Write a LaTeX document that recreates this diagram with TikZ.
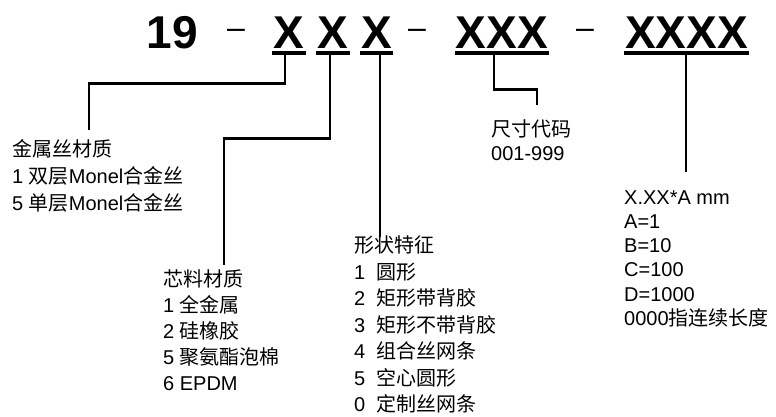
\documentclass[tikz,border=0pt]{standalone}
\usepackage{fontspec}
\setmainfont{Liberation Sans}
\newfontfamily\cjk{Noto Sans CJK SC}
\usetikzlibrary{positioning, calc}

\tikzset{
    codebox/.style={font=\fontsize{46}{46}\selectfont\bfseries, inner xsep=1pt, inner ysep=5pt, anchor=base},
    dashbox/.style={font=\fontsize{32}{32}\selectfont, inner sep=0pt, anchor=base},
    uline/.style={line width=4.5pt},
    conn/.style={line width=2.6pt},
    note/.style={font=\fontsize{20}{#1}\selectfont, align=left, inner sep=0pt, anchor=base west},
    note/.default=27,
}

\begin{document}
\begin{tikzpicture}[x=1pt,y=-1pt]
    \useasboundingbox (0,0) rectangle (776,416);

    % part number
    \node[codebox] (n19) at (172.5,48) {19};
    \node[dashbox] (d1) at (236,38.5) {–};
    \node[codebox] (x1) at (289,48) {X};
    \node[codebox] (x2) at (333,48) {X};
    \node[codebox] (x3) at (376.5,48) {X};
    \node[dashbox] (d2) at (417,38.5) {–};
    \node[codebox] (x4) at (502,48) {XXX};
    \node[dashbox] (d3) at (585,38.5) {–};
    \node[codebox] (x5) at (686.5,48) {XXXX};

    \foreach \n in {x1,x2,x3,x4,x5}
        \draw[uline] (\n.south west) -- (\n.south east);

    % descriptions (base = last line)
    \node[note=27] (wire) at (12,210)
        {{\cjk 金属丝材质}\\1 {\cjk 双层}Monel{\cjk 合金丝}\\5 {\cjk 单层}Monel{\cjk 合金丝}};
    \node[note=26] (core) at (163,390.6)
        {{\cjk 芯料材质}\\1 {\cjk 全金属}\\2 {\cjk 硅橡胶}\\5 {\cjk 聚氨酯泡棉}\\6 EPDM};
    \node[note=26.5] (shape) at (354,411.5)
        {{\cjk 形状特征}\\1~ {\cjk 圆形}\\2~ {\cjk 矩形带背胶}\\3~ {\cjk 矩形不带背胶}\\4~ {\cjk 组合丝网条}\\5~ {\cjk 空心圆形}\\0~ {\cjk 定制丝网条}};
    \node[note=24] (size) at (491,160.2)
        {{\cjk 尺寸代码}\\001-999};
    \node[note=24.3] (len) at (624,325.5)
        {X.XX*A mm\\A=1\\B=10\\C=100\\D=1000\\0000{\cjk 指连续长度}};

    \coordinate (e1) at (89,130);
    \coordinate (e2) at (224,265);
    \coordinate (e3) at (380,237);
    \coordinate (e4) at (537,105);
    \coordinate (e5) at (686,172);

    \draw[conn]
        ([xshift=-4pt]x1.south) -- ++(0,30) -| (e1)
        ([xshift=-3pt]x2.south) -- ++(0,85) -| (e2)
        (x3.south -| e3) -- (e3)
        ([xshift=-8pt]x4.south) -- ++(0,36) -| (e4)
        (x5.south -| e5) -- (e5)
        ;
\end{tikzpicture}
\end{document}
